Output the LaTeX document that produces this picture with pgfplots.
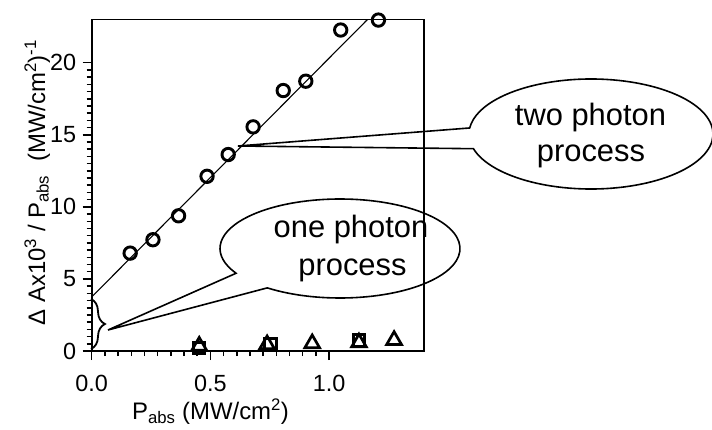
\documentclass[border=0pt]{standalone}
\usepackage{fontspec}
\setmainfont{Liberation Sans}
\usepackage{pgfplots}
\pgfplotsset{compat=1.18}
\usetikzlibrary{decorations.pathreplacing}
\begin{document}
\begin{tikzpicture}
\useasboundingbox (0,0) rectangle (712bp,430bp);
\begin{axis}[
  at={(91.7bp,79bp)}, anchor=south west,
  scale only axis, width=332.3bp, height=331.5bp,
  xmin=0, xmax=1.4, ymin=0, ymax=23,
  xtick={0,0.5,1}, xticklabels={0.0,0.5,1.0},
  ytick={0,5,10,15,20},
  minor x tick num=8, minor y tick num=9,
  tick align=outside, xtick pos=left, ytick pos=left,
  major tick length=9bp, minor tick length=5bp,
  tick style={line width=1.5bp, black},
  axis line style={line width=1.6bp},
  /pgf/number format/assume math mode=true,
  ticklabel style={font=\fontsize{23.5}{27}\selectfont},
  xticklabel shift=12bp,
  yticklabel shift=3bp,
  xlabel={P\textsubscript{abs} (MW/cm\textsuperscript{2})},
  ylabel={Δ Ax10\textsuperscript{3} / P\textsubscript{abs}~~(MW/cm\textsuperscript{2})\textsuperscript{-1}},
  xlabel style={font=\fontsize{24}{28}\selectfont, at={(axis description cs:0.3575,-0.208)}, anchor=base},
  ylabel style={font=\fontsize{24}{28}\selectfont, at={(axis description cs:-0.1405,0.508)}, anchor=base},
  clip=false,
]
\addplot[black, line width=1.1bp, no marks] coordinates {(0,3.75) (1.162,23)};
\addplot[only marks, mark=o, mark size=6.2bp, mark options={line width=2.9bp, black}] coordinates {
(0.162,6.79) (0.258,7.72) (0.366,9.38) (0.486,12.12) (0.575,13.63)
(0.680,15.55) (0.807,18.07) (0.902,18.72) (1.049,22.27) (1.208,22.96)};
\addplot[only marks, mark=square, mark size=5.8bp, mark options={line width=2.9bp, black}] coordinates {
(0.453,0.2) (0.753,0.49) (1.126,0.72)};
\addplot[only marks, mark=triangle, mark size=8.5bp, mark options={line width=2.7bp, black}] coordinates {
(0.453,0.35) (0.739,0.45) (0.929,0.52) (1.126,0.58) (1.274,0.75)};
\end{axis}
\begin{scope}[x=1bp, y=1bp, line width=1.6bp]
% one photon callout
\draw (340,181.5) ++(232.7:120 and 49.5) arc[start angle=232.7, end angle=570, x radius=120, y radius=49.5] -- (108,100) -- cycle;
\node[anchor=base, font=\fontsize{31}{37}\selectfont, inner sep=0] at (351,193) {one photon};
\node[anchor=base, font=\fontsize{31}{37}\selectfont, inner sep=0] at (352.5,155) {process};
% two photon callout
\draw (591,296) ++(195.5:122 and 55) arc[start angle=195.5, end angle=533.7, x radius=122, y radius=55] -- (238,284) -- cycle;
\node[anchor=base, font=\fontsize{31}{37}\selectfont, inner sep=0] at (590.5,305) {two photon};
\node[anchor=base, font=\fontsize{31}{37}\selectfont, inner sep=0] at (591,268.3) {process};
% brace
\draw[line width=1.8bp, decorate, decoration={brace, amplitude=14bp}] (91,131) -- (91,81);
\end{scope}
\end{tikzpicture}
\end{document}
